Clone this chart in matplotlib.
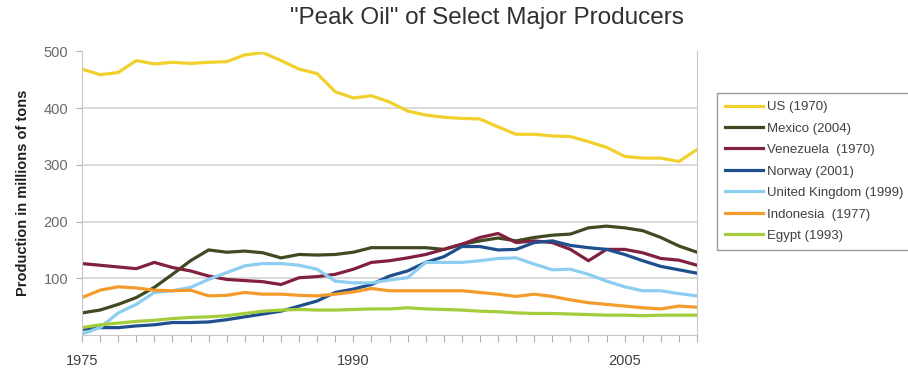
import matplotlib
matplotlib.use("Agg")
import matplotlib.pyplot as plt

plt.rcParams['font.family'] = ['Liberation Sans', 'DejaVu Sans']

years = list(range(1975, 2010))

# oil production, millions of tons per year
us = [469, 459, 463, 484, 478, 481, 479, 481, 482, 494, 498, 484, 469, 461, 429,
      418, 422, 411, 395, 388, 384, 382, 381, 367, 354, 354, 351, 350, 341, 331,
      315, 312, 312, 306, 327]
mexico = [39, 44, 54, 66, 84, 107, 131, 150, 146, 148, 145, 136, 142, 141, 142,
          146, 154, 154, 154, 154, 151, 160, 166, 171, 166, 172, 176, 178, 189, 192,
          189, 184, 172, 157, 146]
venezuela = [126, 123, 120, 117, 128, 119, 113, 104, 98, 96, 94, 89, 101, 103, 107,
             116, 128, 131, 136, 142, 151, 160, 172, 179, 163, 166, 163, 151, 131, 151,
             151, 145, 135, 132, 123]
norway = [10, 13, 13, 16, 18, 22, 22, 23, 27, 32, 37, 42, 51, 60, 75,
          81, 89, 104, 113, 128, 138, 156, 156, 150, 151, 163, 166, 158, 154, 151,
          142, 131, 121, 115, 109]
uk = [2, 13, 39, 54, 75, 78, 84, 98, 110, 122, 126, 126, 123, 116, 95,
      92, 92, 97, 101, 128, 128, 128, 131, 135, 136, 125, 115, 116, 107, 95,
      85, 78, 78, 73, 69]
indonesia = [66, 79, 85, 83, 79, 78, 79, 69, 70, 75, 72, 72, 70, 69, 72,
             76, 82, 78, 78, 78, 78, 78, 75, 72, 68, 72, 68, 62, 57, 54,
             51, 48, 46, 51, 49]
egypt = [13, 18, 21, 24, 26, 29, 31, 32, 34, 38, 42, 44, 45, 44, 44,
         45, 46, 46, 48, 46, 45, 44, 42, 41, 39, 38, 38, 37, 36, 35,
         35, 34, 35, 35, 35]

labels = ['US (1970)', 'Mexico (2004)', 'Venezuela  (1970)', 'Norway (2001)',
          'United Kingdom (1999)', 'Indonesia  (1977)', 'Egypt (1993)']
colors = ['#f1d02c', '#3f4a22', '#82203f', '#1f4f8d', '#8ccdf0', '#f39c2c', '#a3cd3a']
series = [us, mexico, venezuela, norway, uk, indonesia, egypt]

fig = plt.figure(figsize=(9.08, 3.72), dpi=100)
ax = fig.add_axes([82 / 908, 1 - 335 / 372, 615 / 908, (335 - 51.5) / 372])

for vals, lab, col in zip(series, labels, colors):
    ax.plot(years, vals, color=col, lw=2.3, label=lab, solid_joinstyle='round')

ax.set_xlim(1975, 2009)
ax.set_ylim(0, 500)
ax.set_yticks([100, 200, 300, 400, 500])
ax.yaxis.grid(True, color='#d4d4d4', lw=1.2)
ax.set_axisbelow(True)

ax.set_xticks(years)
ax.set_xticklabels([str(y) if y in (1975, 1990, 2005) else '' for y in years])
ax.tick_params(axis='x', length=5, color='#b0b0b0', pad=9, labelsize=10.5,
               labelcolor='#404040')
ax.tick_params(axis='y', length=4, color='#b0b0b0', pad=6, labelsize=10.5,
               labelcolor='#6a6a6a')

for side in ['left', 'bottom', 'right']:
    ax.spines[side].set_color('#c8c8c8')
ax.spines['top'].set_visible(False)

ax.set_ylabel('Production in millions of tons', fontsize=10.5, fontweight='bold',
              color='#202020', labelpad=10)

fig.text(487 / 908, 1 - 18 / 372, '"Peak Oil" of Select Major Producers',
         ha='center', va='center', fontsize=17.5, color='#303030')

leg = fig.legend(loc='upper left', bbox_to_anchor=(717 / 908, 1 - 93 / 372),
                 frameon=True, fancybox=False, fontsize=9.5, handlelength=2.9,
                 handletextpad=0.3, labelspacing=0.7, borderpad=0.6,
                 borderaxespad=0)
leg.get_frame().set_edgecolor('#808080')
leg.get_frame().set_linewidth(1.0)
for t in leg.get_texts():
    t.set_color('#404040')

fig.savefig('out.png', dpi=100)
